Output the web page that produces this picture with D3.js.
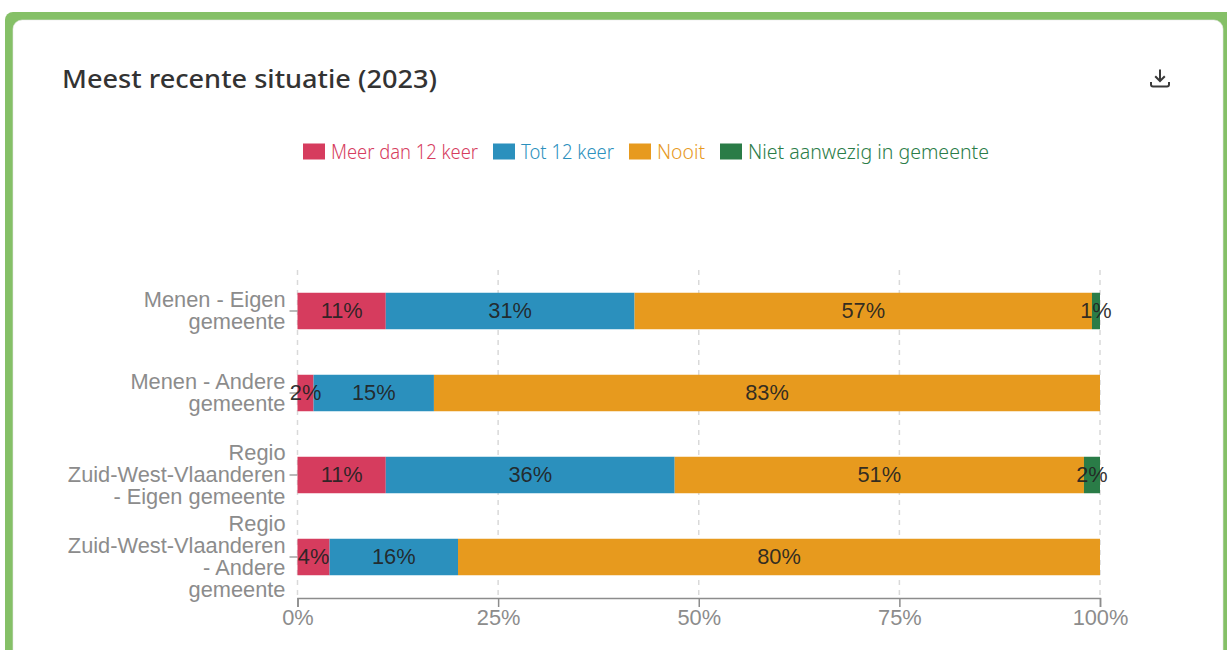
<!DOCTYPE html>
<html><head><meta charset="utf-8">
<script src="https://cdn.jsdelivr.net/npm/d3@7"></script>
<style>
html,body{margin:0;padding:0;background:#fff;overflow:hidden}
svg{display:block}
</style></head><body><div id="c"></div>
<script>
const categories=["Menen - Eigen\ngemeente","Menen - Andere\ngemeente","Regio\nZuid-West-Vlaanderen\n- Eigen gemeente","Regio\nZuid-West-Vlaanderen\n- Andere\ngemeente"];
const seriesNames=["Meer dan 12 keer","Tot 12 keer","Nooit","Niet aanwezig in gemeente"];
const seriesColors=["#d63c5e","#2b90bd","#e79a1e","#2a7c47"];
const meer=[11,2,11,4];
const tot=[31,15,36,16];
const nooit=[57,83,51,80];
const niet=[1,0,2,0];
const xTicks=[0,25,50,75,100];
const titleText="Meest recente situatie (2023)";
const legendX=[303,493,629,720];

const W=1227,H=650;
const svg=d3.select("#c").append("svg").attr("width",W).attr("height",H);
const AR="'Liberation Sans',Arial,sans-serif", UI="'Noto Sans',sans-serif";

// card
svg.append("path").attr("fill","#85c067")
  .attr("d","M5 20a8 8 0 0 1 8-8H1227V650H5Z");
svg.append("rect").attr("x",13).attr("y",20).attr("width",1210).attr("height",650).attr("rx",9).attr("fill","#fff").attr("stroke","#e6e6e6").attr("stroke-width",.6);

svg.append("text").attr("x",62).attr("y",88).attr("font-family","'Noto Sans',sans-serif").attr("font-size",25.5).attr("font-weight",500).attr("fill","#333").attr("textLength",375).attr("lengthAdjust","spacingAndGlyphs").text(titleText);

// download icon
const ic=svg.append("g").attr("fill","none").attr("stroke","#3a3a3a").attr("stroke-width",2);
ic.append("path").attr("d","M1160 69.5V81M1155.2 76.2L1160 81L1164.8 76.2");
ic.append("path").attr("d","M1151 82V84.5a2 2 0 0 0 2 2H1167a2 2 0 0 0 2-2V82");

// legend
const legend=svg.append("g").selectAll("g").data(seriesNames).join("g").attr("transform",(d,i)=>`translate(${legendX[i]},143.5)`);
legend.append("rect").attr("width",22).attr("height",16).attr("fill",(d,i)=>seriesColors[i]);
const legendW=[147,93,48,241];
legend.append("text").attr("x",28).attr("y",15).attr("font-family",UI).attr("font-size",20.5).attr("font-weight",300).attr("fill",(d,i)=>seriesColors[i]).attr("textLength",(d,i)=>legendW[i]).attr("lengthAdjust","spacingAndGlyphs").text(d=>d);

// scales
const x=d3.scaleLinear().domain([0,100]).range([297.5,1100]);
const y=d3.scaleBand().domain(categories).range([270,598]).paddingInner(.555).paddingOuter(.2775);

// grid
svg.append("g").selectAll("line").data(xTicks).join("line")
 .attr("x1",d=>x(d)).attr("x2",d=>x(d)).attr("y1",270).attr("y2",598)
 .attr("stroke","#d9d9d9").attr("stroke-width",1.5).attr("stroke-dasharray","5 5");

// bars
const rows=categories.map((c,i)=>({c,meer:meer[i],tot:tot[i],nooit:nooit[i],niet:niet[i]}));
const stack=d3.stack().keys(["meer","tot","nooit","niet"])(rows);
const gs=svg.append("g").selectAll("g").data(stack).join("g").attr("fill",(d,i)=>seriesColors[i]);
gs.selectAll("rect").data(d=>d).join("rect")
 .attr("x",d=>x(d[0])).attr("width",d=>x(d[1])-x(d[0])).attr("y",d=>y(d.data.c)).attr("height",y.bandwidth());

// axes
const xAxis=svg.append("g").attr("transform","translate(0,598)")
 .call(d3.axisBottom(x).tickValues(xTicks).tickFormat(d=>d+"%").tickSize(9).tickPadding(3));
xAxis.selectAll("path,line").attr("stroke","#8c8c8c").attr("stroke-width",1.5);
xAxis.selectAll("text").attr("font-family",AR).attr("font-size",21.8).attr("fill","#8c8c8c");

const yAxis=svg.append("g").attr("transform","translate(297.5,0)")
 .call(d3.axisLeft(y).tickSize(8).tickFormat(""));
yAxis.select(".domain").remove();
yAxis.selectAll("line").attr("stroke","#8c8c8c").attr("stroke-width",1.2);
yAxis.selectAll(".tick").each(function(c){
  const lines=c.split("\n");
  const t=d3.select(this).select("text").attr("x",-12).attr("y",0).attr("dy",null).attr("text-anchor","end")
    .attr("font-family",AR).attr("font-size",21.8).attr("fill","#8c8c8c");
  t.text(null);
  lines.forEach((l,i)=>t.append("tspan").attr("x",-12).attr("y",(i-(lines.length-1)/2)*22+7).text(l));
});

// value labels
const labels=svg.append("g");
stack.forEach(s=>s.forEach(d=>{
  const v=d[1]-d[0];
  if(v>0) labels.append("text").attr("x",x((d[0]+d[1])/2)).attr("y",y(d.data.c)+y.bandwidth()/2+7)
    .attr("text-anchor","middle").attr("font-family",AR).attr("font-size",21.8).attr("fill","#222").attr("fill-opacity",.92).text(v+"%");
}));
</script></body></html>
